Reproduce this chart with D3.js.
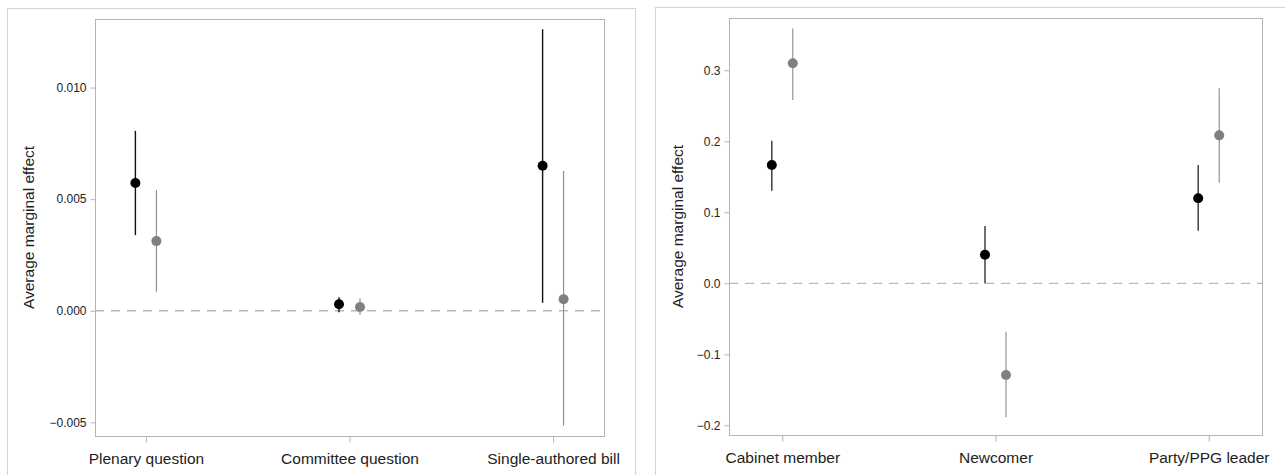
<!DOCTYPE html>
<html>
<head>
<meta charset="utf-8">
<script src="https://cdn.jsdelivr.net/npm/d3@7"></script>
<style>
  body { margin: 0; background: #fff; }
  svg text { font-family: "Liberation Sans", Arial, sans-serif; fill: #222; }
</style>
</head>
<body>
<div class="canvas"></div>
<script>
// panel A: legislative activity
const catsA = ['Plenary question', 'Committee question', 'Single-authored bill'];
const blackA = [0.00572, 0.00029, 0.0065];
const blackLoA = [0.00339, -0.00007, 0.00036];
const blackHiA = [0.00806, 0.0006, 0.01261];
const grayA = [0.00312, 0.00017, 0.00052];
const grayLoA = [0.00085, -0.00019, -0.00515];
const grayHiA = [0.00541, 0.00056, 0.00626];
const ticksA = [-0.005, 0, 0.005, 0.010];

// panel B: positions
const catsB = ['Cabinet member', 'Newcomer', 'Party/PPG leader'];
const blackB = [0.1666, 0.0403, 0.1197];
const blackLoB = [0.1305, 0.0, 0.0741];
const blackHiB = [0.2008, 0.0807, 0.1666];
const grayB = [0.3099, -0.1292, 0.2084];
const grayLoB = [0.2582, -0.1887, 0.1417];
const grayHiB = [0.359, -0.0682, 0.2746];
const ticksB = [-0.2, -0.1, 0, 0.1, 0.2, 0.3];

const svg = d3.select('.canvas').append('svg')
  .attr('width', 1285)
  .attr('height', 475);

function panel(opt) {
  // outer frame
  svg.append('rect')
    .attr('x', opt.frame[0] + 0.5).attr('y', opt.frame[1] + 0.5)
    .attr('width', opt.frame[2]).attr('height', opt.frame[3])
    .attr('fill', 'none').attr('stroke', '#d4d4d4').attr('stroke-width', 1);

  const m = opt.plot; // [left, top, right, bottom]
  const x = d3.scalePoint().domain(opt.cats).range([m[0], m[2]]).padding(0.25);
  const y = d3.scaleLinear().domain(opt.domain).range([m[3], m[1]]);

  // plot box
  svg.append('rect')
    .attr('x', m[0] + 0.5).attr('y', m[1] + 0.5)
    .attr('width', m[2] - m[0]).attr('height', m[3] - m[1])
    .attr('fill', 'none').attr('stroke', '#b4b4b4').attr('stroke-width', 1);

  // zero line
  svg.append('line')
    .attr('x1', m[0]).attr('x2', m[2])
    .attr('y1', y(0)).attr('y2', y(0))
    .attr('stroke', '#b8b8b8').attr('stroke-width', 1.3)
    .attr('stroke-dasharray', '9,7');

  // axes
  const yAxis = svg.append('g')
    .attr('transform', `translate(${m[0] + 0.5},0)`)
    .call(d3.axisLeft(y).tickValues(opt.ticks).tickFormat(d3.format(opt.fmt)).tickSize(5).tickPadding(4));
  const xAxis = svg.append('g')
    .attr('transform', `translate(0,${m[3] + 0.5})`)
    .call(d3.axisBottom(x).tickSize(6).tickPadding(8));
  [yAxis, xAxis].forEach(function(a) {
    a.select('.domain').remove();
    a.selectAll('.tick line').attr('stroke', '#b4b4b4');
  });
  yAxis.selectAll('text').style('font-size', '12px').attr('fill', '#222');
  xAxis.selectAll('text').style('font-size', '15.5px').attr('fill', '#222')
    .attr('dy', '0.9em');

  // y title
  svg.append('text')
    .attr('transform', `translate(${opt.titleX},${(m[1] + m[3]) / 2}) rotate(-90)`)
    .attr('text-anchor', 'middle')
    .style('font-size', '15.5px')
    .text('Average marginal effect');

  const series = [
    { v: opt.black, lo: opt.blackLo, hi: opt.blackHi, dx: -10.5, col: '#000', line: opt.blackLine, w: 1.4 },
    { v: opt.gray, lo: opt.grayLo, hi: opt.grayHi, dx: 10.5, col: '#808080', line: '#8a8a8a', w: 1.1 }
  ];
  series.forEach(function(s) {
    const g = svg.append('g');
    g.selectAll('line').data(opt.cats).join('line')
      .attr('x1', (d) => x(d) + s.dx).attr('x2', (d) => x(d) + s.dx)
      .attr('y1', (d, i) => y(s.lo[i])).attr('y2', (d, i) => y(s.hi[i]))
      .attr('stroke', s.line).attr('stroke-width', s.w);
    g.selectAll('circle').data(opt.cats).join('circle')
      .attr('cx', (d) => x(d) + s.dx)
      .attr('cy', (d, i) => y(s.v[i]))
      .attr('r', 5)
      .attr('fill', s.col);
  });
}

panel({
  frame: [7, 8, 628, 480],
  plot: [95, 19, 604, 436],
  domain: [-0.00561, 0.01307],
  cats: catsA, ticks: ticksA, fmt: '.3f', titleX: 34,
  black: blackA, blackLo: blackLoA, blackHi: blackHiA, blackLine: '#111',
  gray: grayA, grayLo: grayLoA, grayHi: grayHiA
});

panel({
  frame: [655, 7, 640, 480],
  plot: [729, 18, 1262, 435],
  domain: [-0.2137, 0.3737],
  cats: catsB, ticks: ticksB, fmt: '.1f', titleX: 683,
  black: blackB, blackLo: blackLoB, blackHi: blackHiB, blackLine: '#333',
  gray: grayB, grayLo: grayLoB, grayHi: grayHiB
});
</script>
</body>
</html>
